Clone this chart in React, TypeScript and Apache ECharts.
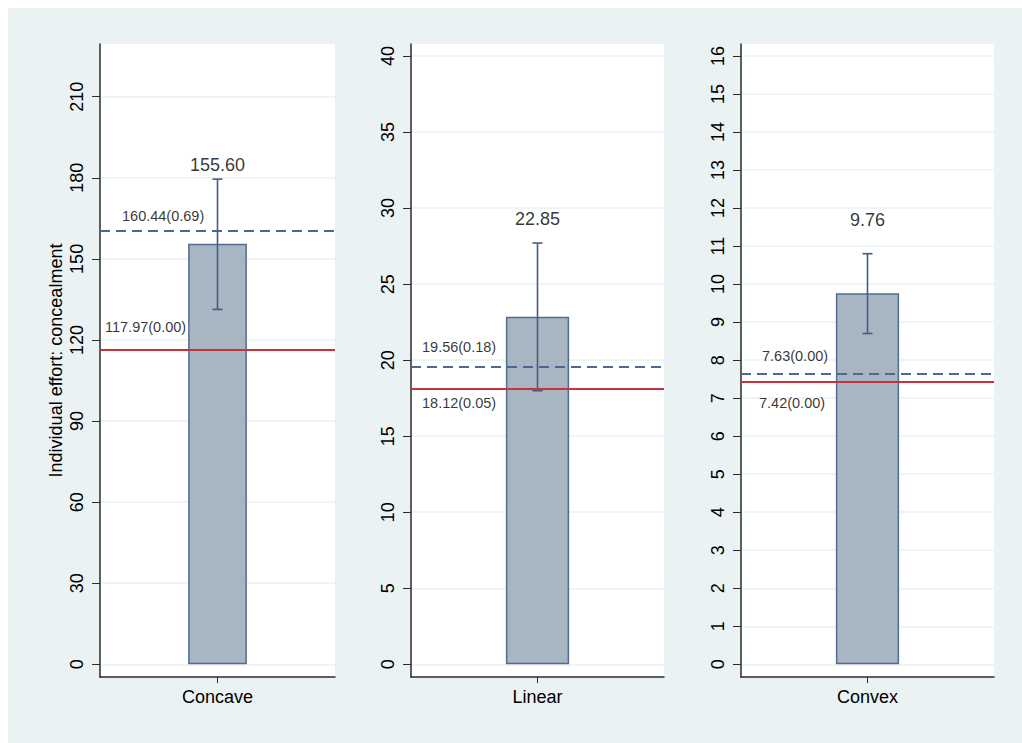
import React, { useEffect, useRef } from "react";
import * as echarts from "echarts";

const categories = ["Concave", "Linear", "Convex"];
const means = [155.6, 22.85, 9.76];
const ciLow = [131.3, 17.99, 8.7];
const ciHigh = [179.5, 27.7, 10.8];
const dashedValues = [160.44, 19.56, 7.63];
const dashedLabels = ["160.44(0.69)", "19.56(0.18)", "7.63(0.00)"];
const solidValues = [116.2, 18.12, 7.42];
const solidLabels = ["117.97(0.00)", "18.12(0.05)", "7.42(0.00)"];
const yMin = [-4.7, -0.835, -0.334];
const yMax = [229.5, 40.79, 16.315];
const yTicks = [
  [0, 30, 60, 90, 120, 150, 180, 210],
  [0, 5, 10, 15, 20, 25, 30, 35, 40],
  [0, 1, 2, 3, 4, 5, 6, 7, 8, 9, 10, 11, 12, 13, 14, 15, 16],
];
const yTitle = "Individual effort: concealment";

const FONT = "'Liberation Sans', Arial, Helvetica, sans-serif";
const BG = "#EAF2F3";
const BAR_FILL = "#A8B5C3";
const BAR_BORDER = "#506D8F";
const CI_COLOR = "#3F5F86";
const DASH_COLOR = "#4A6890";
const RED = "#C8323A";
const AXIS = "#2b2b2b";

// layout (chart coords)
const gridLeft = [92, 403, 733];
const gridWidth = [235, 253, 253];
const gridTop = 36;
const gridHeight = 633;
// label placement styles
const valueLabelDist = [5.5, 15, 25];
const dashedLabelPos = [
  [-95.5, -15],
  [-115.5, -19.5],
  [-105.5, -18],
];
const solidLabelPos = [
  [-112.5, -23],
  [-115.5, 14],
  [-108.5, 21],
];

export default function App() {
  const ref = useRef<HTMLDivElement>(null);
  useEffect(() => {
    if (!ref.current) return;
    const chart = echarts.init(ref.current, undefined, { renderer: "svg" });
    const grids: any[] = [];
    const xAxes: any[] = [];
    const yAxes: any[] = [];
    const series: any[] = [];
    categories.forEach((cat, i) => {
      grids.push({
        left: gridLeft[i],
        top: gridTop,
        width: gridWidth[i],
        height: gridHeight,
        show: true,
        backgroundColor: "#ffffff",
        borderWidth: 0,
        containLabel: false,
      });
      xAxes.push({
        type: "category",
        gridIndex: i,
        data: [cat],
        axisLine: { show: true, onZero: false, lineStyle: { color: AXIS, width: 1.5 } },
        axisTick: { show: true, alignWithLabel: true, length: 6, lineStyle: { color: AXIS, width: 1 } },
        axisLabel: { color: "#000", fontSize: 18, fontFamily: FONT, margin: 11 },
        splitLine: { show: false },
      });
      yAxes.push({
        type: "value",
        gridIndex: i,
        min: yMin[i],
        max: yMax[i],
        name: i === 0 ? yTitle : "",
        nameLocation: "middle",
        nameRotate: 90,
        nameGap: 35,
        nameTextStyle: { color: "#000", fontSize: 18, fontFamily: FONT },
        axisLine: { show: true, lineStyle: { color: AXIS, width: 1.5 } },
        axisTick: { show: true, length: 8, customValues: yTicks[i], lineStyle: { color: AXIS, width: 1 } },
        axisLabel: {
          color: "#000",
          fontSize: 18,
          fontFamily: FONT,
          rotate: 90,
          margin: 14,
          customValues: yTicks[i],
          formatter: (v: number) => String(v),
        },
        splitLine: { show: true, lineStyle: { color: BG, width: 1.5 } },
      });
      // reference lines (behind bars)
      series.push({
        type: "line",
        xAxisIndex: i,
        yAxisIndex: i,
        data: [],
        z: 1,
        silent: true,
        markLine: {
          silent: true,
          symbol: "none",
          label: { show: false },
          data: [
            { yAxis: dashedValues[i], lineStyle: { type: [10, 6], color: DASH_COLOR, width: 2 } },
            { yAxis: solidValues[i], lineStyle: { type: "solid", color: RED, width: 2 } },
          ],
        },
      });
      series.push({
        type: "bar",
        xAxisIndex: i,
        yAxisIndex: i,
        data: [means[i]],
        barWidth: "25%",
        z: 3,
        itemStyle: { color: BAR_FILL, borderColor: BAR_BORDER, borderWidth: 1.5 },
      });
      series.push({
        type: "custom",
        xAxisIndex: i,
        yAxisIndex: i,
        z: 4,
        data: [[0, ciLow[i], ciHigh[i]]],
        encode: { x: 0, y: [1, 2] },
        renderItem: (params: any, api: any) => {
          const x = api.value(0);
          const lo = api.coord([x, api.value(1)]);
          const hi = api.coord([x, api.value(2)]);
          const hw = 5;
          const style = { stroke: CI_COLOR, lineWidth: 1.6 };
          return {
            type: "group",
            children: [
              { type: "line", shape: { x1: hi[0], y1: hi[1], x2: lo[0], y2: lo[1] }, style },
              { type: "line", shape: { x1: hi[0] - hw, y1: hi[1], x2: hi[0] + hw, y2: hi[1] }, style },
              { type: "line", shape: { x1: lo[0] - hw, y1: lo[1], x2: lo[0] + hw, y2: lo[1] }, style },
            ],
          };
        },
      });
      // mean label
      series.push({
        type: "scatter",
        xAxisIndex: i,
        yAxisIndex: i,
        z: 5,
        symbolSize: 0,
        itemStyle: { color: "transparent" },
        silent: true,
        data: [[0, ciHigh[i]]],
        label: {
          show: true,
          position: "top",
          distance: valueLabelDist[i],
          formatter: () => means[i].toFixed(2),
          color: "#000",
          fontSize: 18,
          fontFamily: FONT,
        },
      });
      // reference line labels
      series.push({
        type: "scatter",
        xAxisIndex: i,
        yAxisIndex: i,
        z: 5,
        symbolSize: 0,
        itemStyle: { color: "transparent" },
        silent: true,
        data: [
          {
            value: [0, dashedValues[i]],
            label: { position: dashedLabelPos[i], formatter: dashedLabels[i] },
          },
          {
            value: [0, solidValues[i]],
            label: { position: solidLabelPos[i], formatter: solidLabels[i] },
          },
        ],
        label: {
          show: true,
          align: "left",
          verticalAlign: "middle",
          color: "#000",
          fontSize: 14.5,
          fontFamily: FONT,
        },
      });
    });
    chart.setOption({
      animation: false,
      backgroundColor: BG,
      textStyle: { fontFamily: FONT },
      grid: grids,
      xAxis: xAxes,
      yAxis: yAxes,
      series,
    });
    return () => chart.dispose();
  }, []);
  return (
    <div
      ref={ref}
      style={{ position: "fixed", left: 8, top: 8, width: 1014, height: 735 }}
    />
  );
}
